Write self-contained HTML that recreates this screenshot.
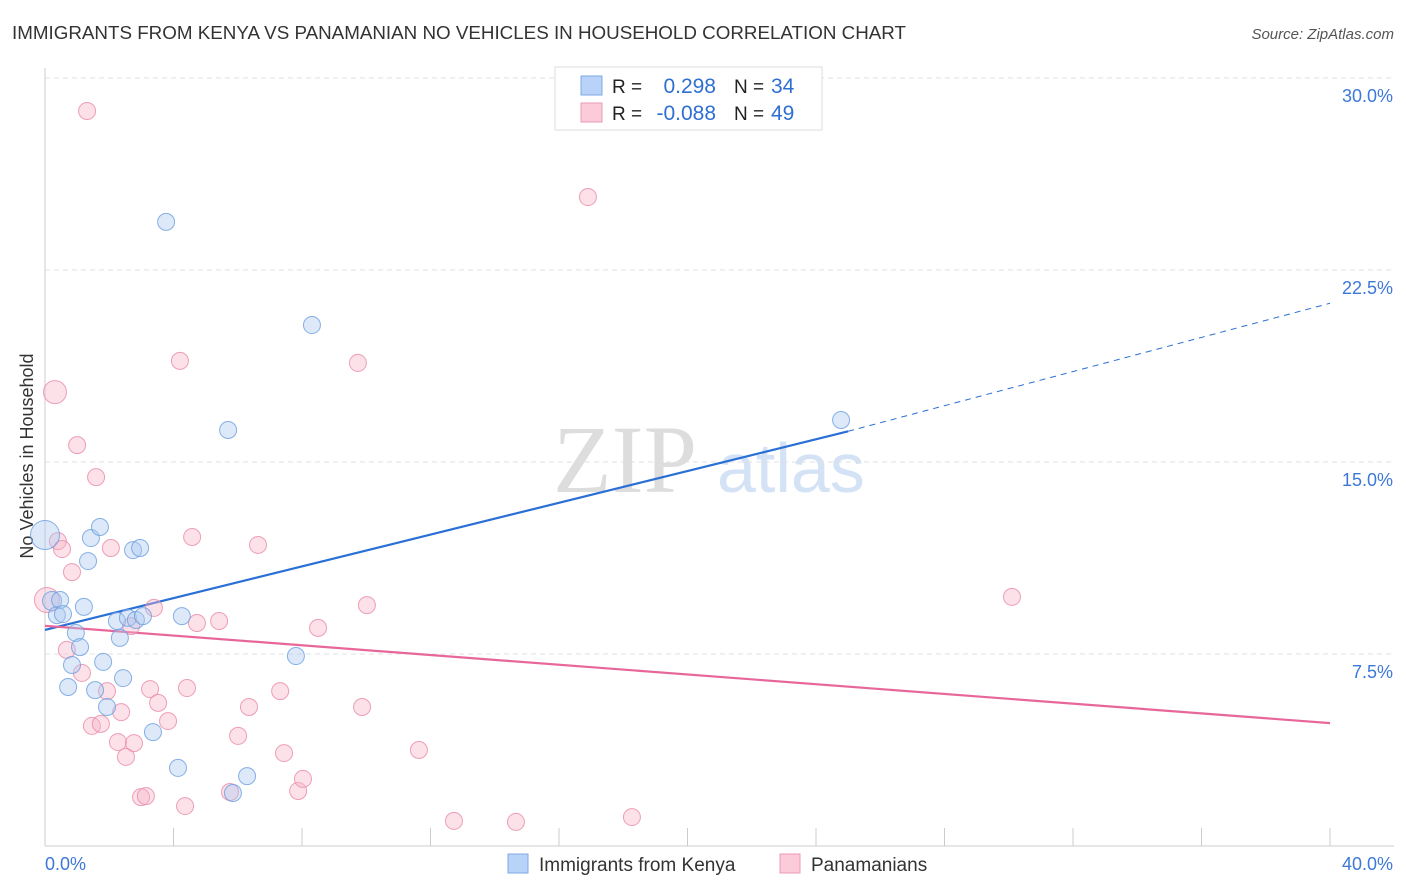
<!DOCTYPE html>
<html><head><meta charset="utf-8"><style>
body{margin:0;background:#fff;font-family:"Liberation Sans",sans-serif;}
svg{display:block}
</style></head><body>
<svg id="chart" width="1406" height="892">
<text x="12" y="39" font-size="18.8" fill="#333">IMMIGRANTS FROM KENYA VS PANAMANIAN NO VEHICLES IN HOUSEHOLD CORRELATION CHART</text>
<text x="1394" y="39" font-size="15" fill="#555" font-style="italic" text-anchor="end">Source: ZipAtlas.com</text>
<text x="33" y="456" font-size="18" fill="#333" text-anchor="middle" transform="rotate(-90 33 456)">No Vehicles in Household</text>
<g><text x="553" y="492" font-size="96" fill="#ddd" font-family="Liberation Serif,serif">ZIP</text><text x="717" y="492" font-size="70" fill="#d3e2f5">atlas</text></g>
<g id="grid"></g><g id="axes"></g><g id="trend"></g><g id="pts"></g>
<g>
<rect x="555" y="67" width="267" height="63" fill="#fff" stroke="#ddd"/>
<rect x="581" y="76" width="21" height="19" fill="#b8d3f7" stroke="#7fa9e6"/>
<rect x="581" y="103" width="21" height="19" fill="#fbcbd9" stroke="#eb9ab4"/>
<text x="612" y="93" font-size="19" fill="#222">R =</text><text x="716" y="93" font-size="21" fill="#2f6fd1" text-anchor="end">0.298</text>
<text x="734" y="93" font-size="19" fill="#222">N =</text><text x="771" y="93" font-size="21" fill="#2f6fd1">34</text>
<text x="612" y="120" font-size="19" fill="#222">R =</text><text x="716" y="120" font-size="21" fill="#2f6fd1" text-anchor="end">-0.088</text>
<text x="734" y="120" font-size="19" fill="#222">N =</text><text x="771" y="120" font-size="21" fill="#2f6fd1">49</text>
</g>
<g>
<rect x="508" y="854" width="20" height="19" fill="#b8d3f7" stroke="#7fa9e6"/>
<text x="539" y="871" font-size="19" fill="#333">Immigrants from Kenya</text>
<rect x="780" y="854" width="20" height="19" fill="#fbcbd9" stroke="#eb9ab4"/>
<text x="811" y="871" font-size="19" fill="#333">Panamanians</text>
</g>
</svg>
<script>
const xTicks=[0,4,8,12,16,20,24,28,32,36,40];
const yTicks=[7.5,15,22.5,30];
const yTickLabels=["7.5%","15.0%","22.5%","30.0%"];
const kenyaX=[0,0.22,0.37,0.47,0.56,0.72,0.84,0.96,1.09,1.21,1.34,1.43,1.56,1.71,1.81,1.93,2.24,2.33,2.43,2.58,2.74,2.83,2.96,3.05,3.36,3.77,4.14,4.26,5.70,5.85,6.29,7.81,8.31,24.78];
const kenyaY=[12.15,9.57,9.02,9.61,9.06,6.21,7.07,8.32,7.77,9.34,11.13,12.03,6.09,12.46,7.19,5.43,8.79,8.13,6.56,8.91,11.56,8.83,11.64,8.98,4.45,24.38,3.05,8.98,16.25,2.07,2.73,7.42,20.35,16.64];
const kenyaR=[14,9,8,8,8,8,8,8,8,8,8,8,8,8,8,8,8,8,8,8,8,8,8,8,8,8,8,8,8,8,8,8,8,8];
const panX=[0.31,1.31,0.06,0.40,0.53,0.68,0.84,1.0,1.15,1.46,1.59,1.74,1.93,2.05,2.27,2.37,2.52,2.68,2.77,2.99,3.14,3.27,3.39,3.52,3.83,4.2,4.36,4.42,4.58,4.73,5.42,5.76,6.01,6.35,6.63,7.32,7.44,7.88,8.03,8.5,9.74,9.87,10.02,11.64,12.73,14.66,16.9,18.27,30.1];
const panY=[17.73,28.71,9.61,11.91,11.6,7.66,10.7,15.66,6.76,4.69,14.41,4.77,6.05,11.64,4.06,5.23,3.48,8.59,4.02,1.91,1.95,6.13,9.3,5.59,4.88,18.95,1.56,6.17,12.07,8.71,8.79,2.11,4.3,5.43,11.76,6.05,3.63,2.15,2.62,8.52,18.87,5.43,9.41,3.75,0.98,0.94,25.35,1.13,9.73];
const panR=[11,8,12,8,8,8,8,8,8,8,8,8,8,8,8,8,8,8,8,8,8,8,8,8,8,8,8,8,8,8,8,8,8,8,8,8,8,8,8,8,8,8,8,8,8,8,8,8,8];
const kenyaTrendX=[0,25,40];
const kenyaTrendY=[8.44,16.2,21.2];
const panTrendX=[0,40];
const panTrendY=[8.6,4.8];
const X=v=>45+v*32.125, Y=v=>846-v*25.6;
const NS="http://www.w3.org/2000/svg";
function mk(parent,tag,attrs){const e=document.createElementNS(NS,tag);for(const k in attrs)e.setAttribute(k,attrs[k]);document.getElementById(parent).appendChild(e);return e;}
yTicks.forEach((t,i)=>{
 const l=mk('grid','line',{x1:45,x2:1394,y1:Y(t),y2:Y(t),stroke:'#e0e0e0','stroke-dasharray':'5,4'});
 
 
 const tx=mk('grid','text',{x:1393,y:Y(t)+24,'font-size':18,fill:'#3d78d8','text-anchor':'end'});
 tx.textContent=yTickLabels[i];
 
 
});
let al=mk('axes','line',{x1:45,x2:45,y1:68,y2:846,stroke:'#ccc'});


let bl=mk('axes','line',{x1:45,x2:1394,y1:846,y2:846,stroke:'#ccc'});


xTicks.forEach(t=>{const tk=mk('axes','line',{x1:X(t),x2:X(t),y1:828,y2:846,stroke:'#ccc'});
 
 });
let x0=mk('axes','text',{x:45,y:870,'font-size':18,fill:'#3d78d8'});x0.textContent='0.0%';


let x1=mk('axes','text',{x:1393,y:870,'font-size':18,fill:'#3d78d8','text-anchor':'end'});x1.textContent='40.0%';


function pts(xs,ys,rs,fill,stroke,name){xs.forEach((v,i)=>{const c=mk('pts','circle',{cx:X(v),cy:Y(ys[i]),r:rs[i]+0.5,fill:fill,'fill-opacity':0.4,stroke:stroke,'stroke-width':1,'stroke-opacity':0.8});
 
 });}
pts(panX,panY,panR,'#f7b3c8','#e88aa8','point-panamanian');
pts(kenyaX,kenyaY,kenyaR,'#a9c8f0','#6a9ee0','point-kenya');
let t1=mk('trend','line',{x1:X(kenyaTrendX[0]),y1:Y(kenyaTrendY[0]),x2:X(kenyaTrendX[1]),y2:Y(kenyaTrendY[1]),stroke:'#2a6fd6','stroke-width':2.2});


let t2=mk('trend','line',{x1:X(kenyaTrendX[1]),y1:Y(kenyaTrendY[1]),x2:X(kenyaTrendX[2]),y2:Y(kenyaTrendY[2]),stroke:'#2a6fd6','stroke-width':1,'stroke-dasharray':'6,5'});


let t3=mk('trend','line',{x1:X(panTrendX[0]),y1:Y(panTrendY[0]),x2:X(panTrendX[1]),y2:Y(panTrendY[1]),stroke:'#e8679a','stroke-width':2.2});


</script>
</body></html>
